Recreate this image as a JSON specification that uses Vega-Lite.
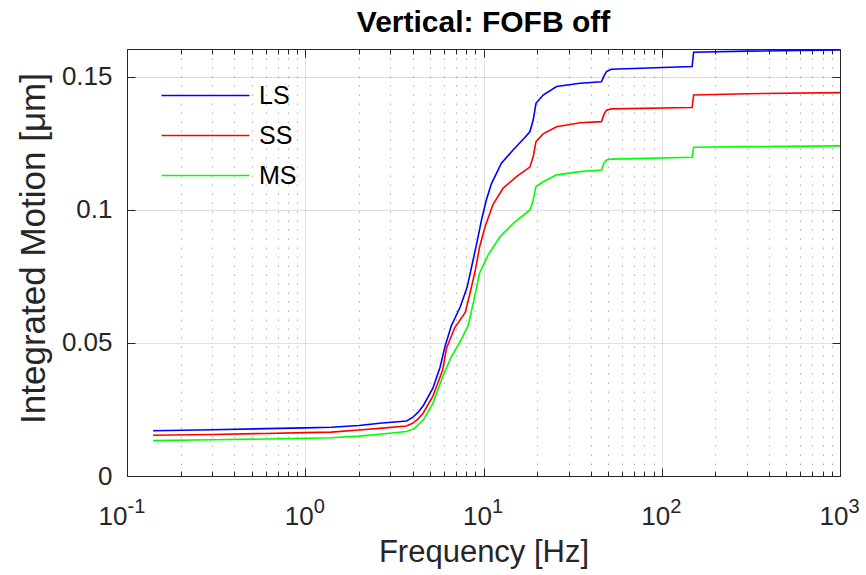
{
  "$schema": "https://vega.github.io/schema/vega-lite/v6.json",
  "width": 713,
  "height": 427,
  "autosize": {"type": "none"},
  "padding": {"left": 127, "top": 49, "right": 26, "bottom": 99},
  "background": "white",
  "title": {
    "text": "Vertical: FOFB off",
    "font": "Liberation Sans",
    "fontSize": 30,
    "fontWeight": "bold",
    "color": "#000000",
    "anchor": "middle",
    "frame": "group",
    "baseline": "alphabetic",
    "offset": -13
  },
  "config": {
    "view": {"stroke": null},
    "axis": {
      "labelFont": "Liberation Sans",
      "titleFont": "Liberation Sans",
      "labelColor": "#262626",
      "titleColor": "#262626",
      "domainColor": "#262626",
      "tickColor": "#262626",
      "labelFontSize": 26,
      "titleFontSize": 31,
      "titleFontWeight": "normal",
      "gridColor": "#262626",
      "gridOpacity": 0.15,
      "domainWidth": 1,
      "tickWidth": 1
    }
  },
  "data": {
    "values": [
      {"series": "LS", "f": 0.14, "v": 0.0170},
      {"series": "LS", "f": 0.3, "v": 0.0174},
      {"series": "LS", "f": 0.6, "v": 0.0178},
      {"series": "LS", "f": 1.0, "v": 0.0181},
      {"series": "LS", "f": 1.4, "v": 0.0183},
      {"series": "LS", "f": 2.0, "v": 0.0190},
      {"series": "LS", "f": 2.7, "v": 0.0199},
      {"series": "LS", "f": 3.7, "v": 0.0207},
      {"series": "LS", "f": 4.0, "v": 0.0220},
      {"series": "LS", "f": 4.3, "v": 0.0240},
      {"series": "LS", "f": 4.6, "v": 0.0265},
      {"series": "LS", "f": 5.2, "v": 0.0330},
      {"series": "LS", "f": 5.7, "v": 0.0408},
      {"series": "LS", "f": 6.1, "v": 0.0490},
      {"series": "LS", "f": 6.6, "v": 0.0565},
      {"series": "LS", "f": 7.4, "v": 0.0635},
      {"series": "LS", "f": 8.1, "v": 0.0710},
      {"series": "LS", "f": 8.6, "v": 0.0790},
      {"series": "LS", "f": 9.2, "v": 0.0880},
      {"series": "LS", "f": 9.8, "v": 0.0970},
      {"series": "LS", "f": 10.4, "v": 0.1040},
      {"series": "LS", "f": 11.1, "v": 0.1100},
      {"series": "LS", "f": 12.6, "v": 0.1176},
      {"series": "LS", "f": 14.7, "v": 0.1226},
      {"series": "LS", "f": 17.1, "v": 0.1273},
      {"series": "LS", "f": 18.2, "v": 0.1294},
      {"series": "LS", "f": 19.0, "v": 0.1338},
      {"series": "LS", "f": 19.7, "v": 0.1401},
      {"series": "LS", "f": 21.6, "v": 0.1432},
      {"series": "LS", "f": 25.7, "v": 0.1464},
      {"series": "LS", "f": 34.8, "v": 0.1476},
      {"series": "LS", "f": 45.9, "v": 0.1482},
      {"series": "LS", "f": 47.5, "v": 0.1505},
      {"series": "LS", "f": 49, "v": 0.1520},
      {"series": "LS", "f": 52, "v": 0.1529},
      {"series": "LS", "f": 148, "v": 0.1539},
      {"series": "LS", "f": 151, "v": 0.1593},
      {"series": "LS", "f": 300, "v": 0.1597},
      {"series": "LS", "f": 1000, "v": 0.1601},
      {"series": "SS", "f": 0.14, "v": 0.0153},
      {"series": "SS", "f": 0.3, "v": 0.0156},
      {"series": "SS", "f": 0.6, "v": 0.0160},
      {"series": "SS", "f": 1.0, "v": 0.0163},
      {"series": "SS", "f": 1.4, "v": 0.0165},
      {"series": "SS", "f": 2.0, "v": 0.0173},
      {"series": "SS", "f": 2.7, "v": 0.0180},
      {"series": "SS", "f": 3.7, "v": 0.0188},
      {"series": "SS", "f": 4.0, "v": 0.0198},
      {"series": "SS", "f": 4.3, "v": 0.0215},
      {"series": "SS", "f": 4.6, "v": 0.0238},
      {"series": "SS", "f": 5.2, "v": 0.0300},
      {"series": "SS", "f": 5.9, "v": 0.0398},
      {"series": "SS", "f": 6.2, "v": 0.0480},
      {"series": "SS", "f": 6.9, "v": 0.0558},
      {"series": "SS", "f": 7.9, "v": 0.0615},
      {"series": "SS", "f": 8.4, "v": 0.0687},
      {"series": "SS", "f": 9.0, "v": 0.0774},
      {"series": "SS", "f": 9.5, "v": 0.0860},
      {"series": "SS", "f": 10.2, "v": 0.0937},
      {"series": "SS", "f": 11.3, "v": 0.1020},
      {"series": "SS", "f": 12.9, "v": 0.1082},
      {"series": "SS", "f": 15.3, "v": 0.1125},
      {"series": "SS", "f": 18.2, "v": 0.1161},
      {"series": "SS", "f": 19.0, "v": 0.1200},
      {"series": "SS", "f": 19.7, "v": 0.1257},
      {"series": "SS", "f": 21.6, "v": 0.1286},
      {"series": "SS", "f": 25.7, "v": 0.1313},
      {"series": "SS", "f": 34.8, "v": 0.1328},
      {"series": "SS", "f": 45.9, "v": 0.1332},
      {"series": "SS", "f": 47.5, "v": 0.1360},
      {"series": "SS", "f": 49, "v": 0.1375},
      {"series": "SS", "f": 52, "v": 0.1380},
      {"series": "SS", "f": 148, "v": 0.1385},
      {"series": "SS", "f": 151, "v": 0.1432},
      {"series": "SS", "f": 300, "v": 0.1437},
      {"series": "SS", "f": 1000, "v": 0.1441},
      {"series": "MS", "f": 0.14, "v": 0.0133},
      {"series": "MS", "f": 0.3, "v": 0.0136},
      {"series": "MS", "f": 0.6, "v": 0.0139},
      {"series": "MS", "f": 1.0, "v": 0.0142},
      {"series": "MS", "f": 1.4, "v": 0.0144},
      {"series": "MS", "f": 2.0, "v": 0.0150},
      {"series": "MS", "f": 2.7, "v": 0.0158},
      {"series": "MS", "f": 3.7, "v": 0.0167},
      {"series": "MS", "f": 4.1, "v": 0.0179},
      {"series": "MS", "f": 4.6, "v": 0.0211},
      {"series": "MS", "f": 5.2, "v": 0.0273},
      {"series": "MS", "f": 5.9, "v": 0.0373},
      {"series": "MS", "f": 6.6, "v": 0.0449},
      {"series": "MS", "f": 7.4, "v": 0.0505},
      {"series": "MS", "f": 8.2, "v": 0.0565},
      {"series": "MS", "f": 8.75, "v": 0.0649},
      {"series": "MS", "f": 9.5, "v": 0.0762},
      {"series": "MS", "f": 10.6, "v": 0.0830},
      {"series": "MS", "f": 12.4, "v": 0.0900},
      {"series": "MS", "f": 14.7, "v": 0.0950},
      {"series": "MS", "f": 18.2, "v": 0.1000},
      {"series": "MS", "f": 18.8, "v": 0.1025},
      {"series": "MS", "f": 19.7, "v": 0.1088},
      {"series": "MS", "f": 21.6, "v": 0.1106},
      {"series": "MS", "f": 25.7, "v": 0.1132},
      {"series": "MS", "f": 34.8, "v": 0.1144},
      {"series": "MS", "f": 45.9, "v": 0.1150},
      {"series": "MS", "f": 47.5, "v": 0.1178},
      {"series": "MS", "f": 49, "v": 0.1188},
      {"series": "MS", "f": 52, "v": 0.1191},
      {"series": "MS", "f": 148, "v": 0.1198},
      {"series": "MS", "f": 151, "v": 0.1236},
      {"series": "MS", "f": 300, "v": 0.1238},
      {"series": "MS", "f": 1000, "v": 0.1241}
    ]
  },
  "layer": [
    {
      "mark": {"type": "line", "strokeWidth": 1.6, "clip": true},
      "encoding": {
        "x": {
          "field": "f", "type": "quantitative",
          "scale": {"type": "log", "domain": [0.1, 1000], "nice": false},
          "axis": {
            "orient": "bottom",
            "values": [0.1, 1, 10, 100, 1000],
            "labelExpr": "'10'",
            "labelAlign": "right",
            "labelBaseline": "alphabetic",
            "labelOffset": {"condition": {"test": "datum.value < 0.5", "value": 0}, "value": 8},
            "labelOverlap": false,
            "labelBound": false,
            "labelFlush": false,
            "grid": true,
            "tickSize": -8,
            "labelPadding": 56,
            "title": "Frequency [Hz]",
            "titlePadding": 8
          }
        },
        "y": {
          "field": "v", "type": "quantitative",
          "scale": {"domain": [0, 0.1605], "nice": false, "zero": true},
          "axis": {
            "orient": "left",
            "values": [0, 0.05, 0.1, 0.15],
            "format": "~g",
            "grid": true,
            "tickSize": -8,
            "labelPadding": 23,
            "title": "Integrated Motion [μm]",
            "titleFontSize": 35,
            "titlePadding": 10,
            "titleY": 199
          }
        },
        "color": {
          "field": "series", "type": "nominal",
          "scale": {"domain": ["LS", "SS", "MS"], "range": ["#0000ff", "#ff0000", "#00ff00"]},
          "legend": {
            "orient": "none",
            "legendX": 66,
            "legendY": 34,
            "title": null,
            "padding": 0,
            "symbolType": "M-4,0H4",
            "symbolSize": 484,
            "symbolStrokeWidth": 1.6,
            "labelFont": "Liberation Sans",
            "labelFontSize": 25,
            "labelColor": "#000000",
            "labelOffset": 41,
            "rowPadding": 14
          }
        }
      }
    },
    {
      "mark": {"type": "line", "opacity": 0},
      "encoding": {
        "x": {
          "field": "f", "type": "quantitative",
          "scale": {"type": "log", "domain": [0.1, 1000], "nice": false},
          "axis": {
            "orient": "bottom",
            "values": [0.1, 1, 10, 100, 1000],
            "labelExpr": "['-1','0','1','2','3'][round(log(datum.value)/LN10)+1]",
            "labelFontSize": 20,
            "labelAlign": "left",
            "labelBaseline": "alphabetic",
            "labelOffset": {"condition": {"test": "datum.value < 0.5", "value": 0}, "value": 8},
            "labelOverlap": false,
            "labelBound": false,
            "labelFlush": false,
            "ticks": false,
            "domain": false,
            "grid": false,
            "labelPadding": 36,
            "title": null
          }
        },
        "y": {
          "field": "v", "type": "quantitative",
          "scale": {"domain": [0, 0.1605], "nice": false, "zero": true},
          "axis": null
        },
        "detail": {"field": "series"}
      }
    },
    {
      "mark": {"type": "line", "opacity": 0},
      "encoding": {
        "x": {
          "field": "f", "type": "quantitative",
          "scale": {"type": "log", "domain": [0.1, 1000], "nice": false},
          "axis": {"orient": "top", "values": [0.1, 1, 10, 100, 1000], "labels": false, "grid": false, "tickSize": -8, "title": null}
        },
        "y": {
          "field": "v", "type": "quantitative",
          "scale": {"domain": [0, 0.1605], "nice": false, "zero": true},
          "axis": {"orient": "right", "values": [0, 0.05, 0.1, 0.15], "labels": false, "grid": false, "tickSize": -8, "title": null}
        },
        "detail": {"field": "series"}
      }
    },
    {
      "mark": {"type": "line", "opacity": 0},
      "encoding": {
        "x": {
          "field": "f", "type": "quantitative",
          "scale": {"type": "log", "domain": [0.1, 1000], "nice": false},
          "axis": {
            "orient": "bottom",
            "values": [0.2, 0.3, 0.4, 0.5, 0.6, 0.7, 0.8, 0.9, 2, 3, 4, 5, 6, 7, 8, 9, 20, 30, 40, 50, 60, 70, 80, 90, 200, 300, 400, 500, 600, 700, 800, 900],
            "labels": false, "grid": true, "gridDash": [1.5, 7.5], "gridOpacity": 0.35,
            "tickSize": -5, "domain": false, "title": null
          }
        },
        "y": {
          "field": "v", "type": "quantitative",
          "scale": {"domain": [0, 0.1605], "nice": false, "zero": true},
          "axis": null
        },
        "detail": {"field": "series"}
      }
    },
    {
      "mark": {"type": "line", "opacity": 0},
      "encoding": {
        "x": {
          "field": "f", "type": "quantitative",
          "scale": {"type": "log", "domain": [0.1, 1000], "nice": false},
          "axis": {
            "orient": "top",
            "values": [0.2, 0.3, 0.4, 0.5, 0.6, 0.7, 0.8, 0.9, 2, 3, 4, 5, 6, 7, 8, 9, 20, 30, 40, 50, 60, 70, 80, 90, 200, 300, 400, 500, 600, 700, 800, 900],
            "labels": false, "grid": false,
            "tickSize": -5, "domain": false, "title": null
          }
        },
        "y": {
          "field": "v", "type": "quantitative",
          "scale": {"domain": [0, 0.1605], "nice": false, "zero": true},
          "axis": null
        },
        "detail": {"field": "series"}
      }
    }
  ],
  "resolve": {"axis": {"x": "independent", "y": "independent"}}
}
